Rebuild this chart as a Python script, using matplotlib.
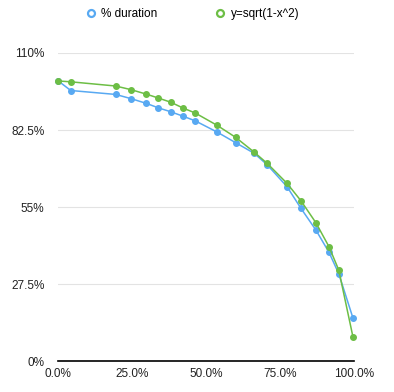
import matplotlib.pyplot as plt
from matplotlib.lines import Line2D
from matplotlib.ticker import FuncFormatter

plt.rcParams['font.family'] = ['Liberation Sans', 'DejaVu Sans']

# x position (% of range) shared by both series
x_pct = [0.0, 4.2, 19.4, 24.6, 29.8, 33.9, 38.1, 42.3, 46.3, 53.7,
         60.0, 66.3, 70.7, 77.4, 82.1, 87.2, 91.6, 94.9, 99.7]
duration = [100.0, 96.6, 95.2, 93.7, 92.0, 90.4, 89.0, 87.4, 85.8, 81.8,
            78.0, 74.2, 70.1, 62.3, 54.6, 46.8, 38.9, 31.3, 15.5]
sqrt_curve = [100.0, 99.7, 98.2, 96.9, 95.3, 93.9, 92.4, 90.3, 88.6, 84.2,
              79.9, 74.6, 70.6, 63.5, 57.3, 49.4, 40.9, 32.6, 8.8]

labels = ['% duration', 'y=sqrt(1-x^2)']
colors = ['#58A9F2', '#6DBE45']
y_ticks = [0, 27.5, 55, 82.5, 110]
y_labels = ['0%', '27.5%', '55%', '82.5%', '110%']
x_ticks = [0, 25, 50, 75, 100]

fig = plt.figure(figsize=(3.94, 3.92), dpi=100)
ax = fig.add_axes([0.148, 0.078, 0.750, 0.787])

for ys, c in zip([duration, sqrt_curve], colors):
    ax.plot(x_pct, ys, color=c, lw=1.1, marker='o', markersize=4,
            clip_on=False, zorder=3)

ax.set_xlim(0, 100)
ax.set_ylim(0, 110)
ax.set_yticks(y_ticks)
ax.set_yticklabels(y_labels)
ax.set_xticks(x_ticks)
ax.xaxis.set_major_formatter(FuncFormatter(lambda v, p: f'{v:.1f}%'))

ax.grid(axis='y', color='#e3e3e3', lw=0.8)
ax.set_axisbelow(True)
for s in ['top', 'right', 'left']:
    ax.spines[s].set_visible(False)
ax.spines['bottom'].set_color('black')
ax.spines['bottom'].set_linewidth(1.2)
ax.tick_params(axis='y', length=0, pad=10, labelsize=8.5, colors='#222222')
ax.tick_params(axis='x', length=0, pad=5, labelsize=8.5, colors='#222222')

handles = [Line2D([], [], ls='none', marker='o', markersize=5,
                  markerfacecolor='white', markeredgecolor=c, markeredgewidth=1.6)
           for c in colors]
fig.legend(handles, labels, loc='center', bbox_to_anchor=(192 / 394, 1 - 14 / 392),
           ncol=2, frameon=False, fontsize=8.5, handletextpad=0.4,
           columnspacing=4.8, handlelength=1.0)

fig.savefig('out.png', dpi=100)
